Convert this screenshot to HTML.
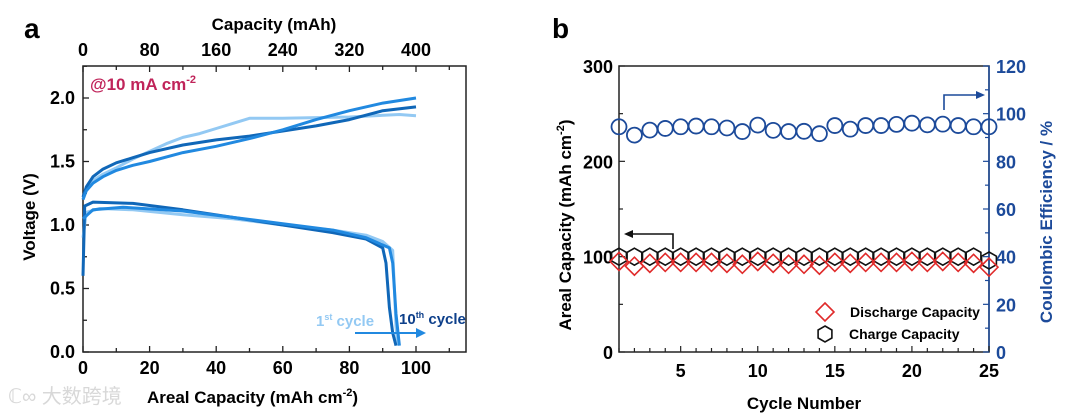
<!DOCTYPE html>
<html><head><meta charset="utf-8"><style>
html,body{margin:0;padding:0;background:#fff;}
svg{display:block;font-family:"Liberation Sans","Noto Sans CJK SC",sans-serif;font-weight:bold;}
</style></head><body>
<svg id="s" width="1080" height="416" viewBox="0 0 1080 416" xmlns="http://www.w3.org/2000/svg">
<text x="24" y="38" font-size="28">a</text>
<text x="552" y="38" font-size="28">b</text>
<text x="8" y="403" font-size="20" fill="#d8d8d8" font-weight="normal">ℂ∞ 大数跨境</text>
<g id="ga"></g><g id="gb"></g>
</svg>
<script>
const NS="http://www.w3.org/2000/svg";
function el(p,t,a,txt){const e=document.createElementNS(NS,t);for(const k in a)e.setAttribute(k,a[k]);if(txt!==undefined)e.textContent=txt;p.appendChild(e);return e;}
// ---- Panel A data ----
const xTicksA=[0,20,40,60,80,100];
const topTicksA=[0,80,160,240,320,400];
const yTicksA=[0,0.5,1.0,1.5,2.0];
const chargeLightX=[0,1,3,6,10,15,20,25,30,35,40,45,50,60,80,95,100];
const chargeLightY=[1.2,1.28,1.35,1.4,1.45,1.52,1.58,1.64,1.69,1.72,1.76,1.8,1.84,1.84,1.85,1.87,1.86];
const chargeDarkX=[0,1,3,6,10,15,20,30,40,50,60,70,80,90,100];
const chargeDarkY=[1.22,1.3,1.38,1.44,1.49,1.53,1.57,1.63,1.67,1.7,1.74,1.78,1.83,1.9,1.93];
const chargeMidX=[0,1,3,6,10,15,20,30,40,50,60,70,80,90,100];
const chargeMidY=[1.2,1.27,1.33,1.38,1.43,1.47,1.5,1.57,1.62,1.68,1.75,1.83,1.9,1.96,2.0];
const disLightX=[0,1,5,15,30,45,60,75,85,90,93,93.5,94,94.5];
const disLightY=[0.9,1.1,1.13,1.12,1.08,1.05,1.0,0.96,0.92,0.87,0.8,0.5,0.2,0.05];
const disDarkX=[0,0.5,3,15,30,45,60,75,85,90,91,92,93,94];
const disDarkY=[0.6,1.15,1.18,1.17,1.12,1.06,1.0,0.94,0.89,0.82,0.7,0.35,0.15,0.05];
const disMidX=[0,3,12,30,45,60,75,85,92,93,94,95];
const disMidY=[1.05,1.12,1.14,1.11,1.06,1.01,0.96,0.9,0.82,0.7,0.3,0.05];
// ---- Panel B data ----
const cycles=[1,2,3,4,5,6,7,8,9,10,11,12,13,14,15,16,17,18,19,20,21,22,23,24,25];
const ceValues=[94.5,91,93.1,93.8,94.5,94.8,94.5,94,92.5,95.2,93,92.5,92.6,91.6,95,93.5,95,95,95.5,96,95.3,95.6,95,94.5,94.5];
const chargeCap=[100,100,100,100,100,100,100,100,100,100,100,100,100,100,100,100,100,100,100,100,100,100,100,100,96];
const dischargeCap=[95,90,93,94,94,94,94,93,92,95,93,92,92,91,94,93,94,94,94,95,94,95,94,93,89];
const xTicksB=[5,10,15,20,25];
const yTicksB=[0,100,200,300];
const yTicksB2=[0,20,40,60,80,100,120];

// Panel A
const ga=document.getElementById('ga');
const ax=v=>83+v*3.33, ay=v=>352-v*127;
el(ga,'rect',{x:83,y:66,width:383,height:286,fill:'none',stroke:'#222','stroke-width':1.5,});
for(let v=0;v<=110;v+=10){const x=ax(v),L=v%20==0?6:4;
 el(ga,'line',{x1:x,y1:352,x2:x,y2:352-L,stroke:'#222','stroke-width':1.3});
 el(ga,'line',{x1:x,y1:66,x2:x,y2:66+L,stroke:'#222','stroke-width':1.3});}
xTicksA.forEach(v=>{const t=el(ga,'text',{x:ax(v),y:374,'font-size':18,'text-anchor':'middle'},String(v));

});
topTicksA.forEach(v=>{const t=el(ga,'text',{x:ax(v/4),y:56,'font-size':18,'text-anchor':'middle'},String(v));

});
for(let v=0;v<=2.25;v+=0.25){const y=ay(v),L=(Math.round(v*100)%50==0)?6:4;
 el(ga,'line',{x1:83,y1:y,x2:83+L,y2:y,stroke:'#222','stroke-width':1.3});}
yTicksA.forEach(v=>{const t=el(ga,'text',{x:75,y:ay(v)+6,'font-size':18,'text-anchor':'end'},v.toFixed(1));

});
el(ga,'text',{x:274,y:30,'font-size':17,'text-anchor':'middle',},'Capacity (mAh)');
const xt=el(ga,'text',{x:147,y:403,'font-size':17,},'Areal Capacity (mAh cm');
el(xt,'tspan',{dy:-7,'font-size':11},'-2');el(xt,'tspan',{dy:7},')');
el(ga,'text',{x:0,y:0,'font-size':17,'text-anchor':'middle',transform:'translate(35,217) rotate(-90)',},'Voltage (V)');
const an=el(ga,'text',{x:90,y:90,'font-size':17,fill:'#c0245a',},'@10 mA cm');
el(an,'tspan',{dy:-7,'font-size':11},'-2');
function line(X,Y,c,name){const d=X.map((v,i)=>(i?'L':'M')+ax(v).toFixed(1)+','+ay(Y[i]).toFixed(1)).join('');
 const p=el(ga,'path',{d:d,fill:'none',stroke:c,'stroke-width':3,'stroke-linejoin':'round'});
 
 }
line(chargeLightX,chargeLightY,'#93c9f3','charge-curve-1st');
line(disLightX,disLightY,'#93c9f3','discharge-curve-1st');
line(chargeDarkX,chargeDarkY,'#1067b8','charge-curve-mid');
line(disDarkX,disDarkY,'#1067b8','discharge-curve-mid');
line(chargeMidX,chargeMidY,'#2189e0','charge-curve-10th');
line(disMidX,disMidY,'#2189e0','discharge-curve-10th');
const t1=el(ga,'text',{x:316,y:326,'font-size':15,fill:'#93c9f3',},'1');
el(t1,'tspan',{dy:-6,'font-size':9},'st');el(t1,'tspan',{dy:6},' cycle');
const t2=el(ga,'text',{x:399,y:324,'font-size':15,fill:'#0d3f8a',},'10');
el(t2,'tspan',{dy:-6,'font-size':9},'th');el(t2,'tspan',{dy:6},' cycle');
el(ga,'line',{x1:355,y1:333,x2:418,y2:333,stroke:'#2189e0','stroke-width':2,});
el(ga,'path',{d:'M416,328 L426,333 L416,338Z',fill:'#2189e0'});

// Panel B
const gb=document.getElementById('gb');
const bx=v=>619+(v-1)*(370/24), by=v=>352-v*286/300, by2=v=>352-v*286/120;
el(gb,'rect',{x:619,y:66,width:370,height:286,fill:'none',stroke:'#222','stroke-width':1.5,});
el(gb,'line',{x1:989,y1:66,x2:989,y2:352,stroke:'#1c4a9a','stroke-width':1.5});
for(let v=1;v<=25;v++){const L=v%5==0?6:4;el(gb,'line',{x1:bx(v),y1:352,x2:bx(v),y2:352-L,stroke:'#222','stroke-width':1.2});}
xTicksB.forEach(v=>{const t=el(gb,'text',{x:bx(v),y:377,'font-size':18,'text-anchor':'middle'},String(v));

});
for(let v=0;v<=300;v+=50){el(gb,'line',{x1:619,y1:by(v),x2:619+(v%100?4:6),y2:by(v),stroke:'#222','stroke-width':1.2});}
yTicksB.forEach(v=>{const t=el(gb,'text',{x:613,y:by(v)+7,'font-size':18,'text-anchor':'end'},String(v));

});
for(let v=0;v<=120;v+=10){el(gb,'line',{x1:989,y1:by2(v),x2:989-(v%20?4:6),y2:by2(v),stroke:'#1c4a9a','stroke-width':1.2});}
yTicksB2.forEach(v=>{const t=el(gb,'text',{x:996,y:by2(v)+7,'font-size':18,fill:'#1c4a9a'},String(v));

});
el(gb,'text',{x:804,y:409,'font-size':17,'text-anchor':'middle',},'Cycle Number');
const yl=el(gb,'text',{x:0,y:0,'font-size':17,'text-anchor':'middle',transform:'translate(571,225) rotate(-90)',},'Areal Capacity (mAh cm');
el(yl,'tspan',{dy:-7,'font-size':11},'-2');el(yl,'tspan',{dy:7},')');
el(gb,'text',{x:0,y:0,'font-size':17,'text-anchor':'middle',fill:'#1c4a9a',transform:'translate(1052,222) rotate(-90)',},'Coulombic Efficiency / %');
function hex(cx,cy,r){let d='';for(let i=0;i<6;i++){const a=Math.PI/3*i-Math.PI/2;d+=(i?'L':'M')+(cx+r*Math.cos(a)).toFixed(1)+','+(cy+r*Math.sin(a)).toFixed(1);}return d+'Z';}
cycles.forEach((c,i)=>{
 const h=el(gb,'path',{d:hex(bx(c),by(chargeCap[i]),8.5),fill:'none',stroke:'#111','stroke-width':1.6});
 
 
});
cycles.forEach((c,i)=>{const x=bx(c),y=by(dischargeCap[i]),r=9;
 const p=el(gb,'path',{d:`M${x},${y-r}L${x+r},${y}L${x},${y+r}L${x-r},${y}Z`,fill:'none',stroke:'#e02a2a','stroke-width':1.6});
 
 
});
cycles.forEach((c,i)=>{
 const o=el(gb,'circle',{cx:bx(c),cy:by2(ceValues[i]),r:7.5,fill:'none',stroke:'#1c4a9a','stroke-width':1.8});
 
 
});
el(gb,'path',{d:'M673,249 L673,234 L632,234',fill:'none',stroke:'#111','stroke-width':1.6,});
el(gb,'path',{d:'M633,230 L624,234 L633,238Z',fill:'#111'});
el(gb,'path',{d:'M944,110 L944,95 L978,95',fill:'none',stroke:'#1c4a9a','stroke-width':1.6,});
el(gb,'path',{d:'M976,91 L985,95 L976,99Z',fill:'#1c4a9a'});
el(gb,'path',{d:'M825,303L834,312L825,321L816,312Z',fill:'none',stroke:'#e02a2a','stroke-width':1.6,});
el(gb,'text',{x:850,y:317,'font-size':14,},'Discharge Capacity');
el(gb,'path',{d:hex(825,334,8),fill:'none',stroke:'#111','stroke-width':1.6,});
el(gb,'text',{x:849,y:339,'font-size':14,},'Charge Capacity');
</script>
</body></html>
